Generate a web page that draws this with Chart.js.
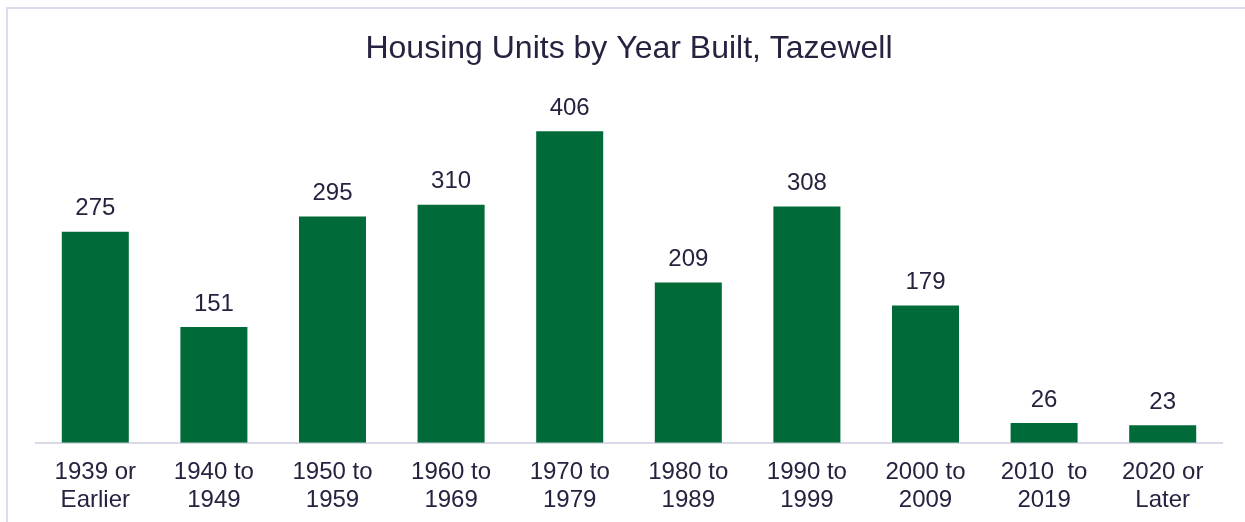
<!DOCTYPE html>
<html>
<head>
<meta charset="utf-8">
<script src="https://cdn.jsdelivr.net/npm/chart.js@4.4.1/dist/chart.umd.min.js"></script>
<style>
  html, body { margin: 0; padding: 0; background: #fff; }
  #wrap { position: relative; width: 1245px; height: 522px; overflow: hidden; }
  #frame { position: absolute; left: 6px; top: 7px; width: 1300px; height: 600px;
           border: 2px solid #dcdcef; box-sizing: border-box; }
  #housing-chart { position: absolute; left: 0; top: 0; }
</style>
</head>
<body>
<div id="wrap">
  <div id="frame"></div>
  <canvas id="housing-chart" width="1245" height="522"></canvas>
</div>
<script>
const yearLabels = [
  ['1939 or', 'Earlier'],
  ['1940 to', '1949'],
  ['1950 to', '1959'],
  ['1960 to', '1969'],
  ['1970 to', '1979'],
  ['1980 to', '1989'],
  ['1990 to', '1999'],
  ['2000 to', '2009'],
  ['2010  to', '2019'],
  ['2020 or', 'Later']
];
const housingUnits = [275, 151, 295, 310, 406, 209, 308, 179, 26, 23];

const textColor = '#25233f';
const barColor = '#006b38';
const fontFamily = '"Liberation Sans", Arial, sans-serif';

// draws the value over each bar
const valueLabels = {
  id: 'valueLabels',
  afterDatasetsDraw(chart) {
    const ctx = chart.ctx;
    const meta = chart.getDatasetMeta(0);
    ctx.save();
    ctx.fillStyle = textColor;
    ctx.font = '24px ' + fontFamily;
    ctx.textAlign = 'center';
    ctx.textBaseline = 'middle';
    meta.data.forEach((bar, i) => {
      ctx.fillText(chart.data.datasets[0].data[i], bar.x, bar.y - 23);
    });
    ctx.restore();
  }
};

const canvas = document.querySelector('#housing-chart').getContext('2d');

new Chart(canvas, {
  type: 'bar',
  data: {
    labels: yearLabels,
    datasets: [{
      label: 'Housing Units',
      data: housingUnits,
      backgroundColor: barColor,
      barPercentage: 0.565,
      categoryPercentage: 1
    }]
  },
  options: {
    responsive: false,
    animation: false,
    layout: {
      padding: { left: 36, right: 23, top: 0, bottom: -7 }
    },
    plugins: {
      legend: { display: false },
      tooltip: { enabled: false },
      title: {
        display: true,
        text: 'Housing Units by Year Built, Tazewell',
        color: textColor,
        font: { family: fontFamily, size: 32, weight: 'normal', lineHeight: 1.2 },
        padding: { top: 30, bottom: 29 }
      }
    },
    scales: {
      x: {
        grid: { display: false, drawTicks: false },
        border: { display: true, color: '#d9d9e8', width: 2 },
        ticks: {
          color: textColor,
          padding: 15,
          maxRotation: 0,
          autoSkip: false,
          font: { family: fontFamily, size: 24, lineHeight: 1.17 }
        }
      },
      y: {
        display: false,
        min: 0,
        max: 450
      }
    }
  },
  plugins: [valueLabels]
});
</script>
</body>
</html>
